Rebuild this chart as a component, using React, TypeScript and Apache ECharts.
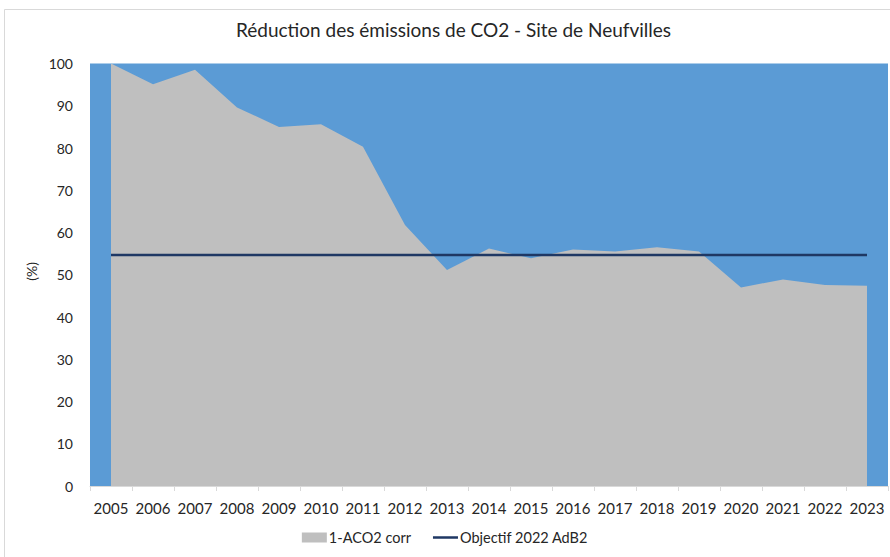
import React, { useEffect, useRef } from "react";
import * as echarts from "echarts";

const years = ["2005","2006","2007","2008","2009","2010","2011","2012","2013","2014","2015","2016","2017","2018","2019","2020","2021","2022","2023"];
const aco2Corr = [100, 95.1, 98.5, 89.6, 85.0, 85.6, 80.3, 61.8, 51.1, 56.2, 53.9, 56.0, 55.5, 56.5, 55.5, 47.0, 48.9, 47.6, 47.4];
const objectif = [54.7, 54.7, 54.7, 54.7, 54.7, 54.7, 54.7, 54.7, 54.7, 54.7, 54.7, 54.7, 54.7, 54.7, 54.7, 54.7, 54.7, 54.7, 54.7];
const yTicks = { min: 0, max: 100, interval: 10 };

const FONT = "Lato";
const TXT = "#262626";
const LINE_ICON = "path://M0,0L25,0L25,0.01L0,0.01Z M0,3.7L25,3.7L25,6.3L0,6.3Z M0,9.99L25,9.99L25,10L0,10Z";

export default function App() {
  const ref = useRef<HTMLDivElement>(null);
  useEffect(() => {
    if (!ref.current) return;
    const chart = echarts.init(ref.current, null, { renderer: "svg" });
    chart.setOption({
      animation: false,
      backgroundColor: "#ffffff",
      textStyle: { fontFamily: FONT },
      graphic: [
        {
          type: "rect",
          shape: { x: 4.5, y: 9.5, width: 900, height: 560 },
          style: { fill: "none", stroke: "#d9d9d9", lineWidth: 1 },
          silent: true,
        },
        {
          type: "text",
          left: 24,
          top: 262,
          rotation: Math.PI / 2,
          style: { text: "(%)", font: `14px ${FONT}`, fill: TXT, textAlign: "center", textVerticalAlign: "middle" },
        },
      ],
      title: {
        text: "Réduction des émissions de CO2 - Site de Neufvilles",
        left: 236,
        top: 20,
        padding: 0,
        textStyle: { fontFamily: FONT, fontSize: 19, fontWeight: "normal", color: TXT },
      },
      legend: {
        bottom: 7,
        left: "center",
        itemWidth: 25,
        itemHeight: 10,
        itemGap: 22,
        textStyle: { fontFamily: FONT, fontSize: 14.5, color: TXT, padding: [0, 0, 0, -3] },
        data: [
          { name: "1-ACO2 corr", icon: "rect" },
          { name: "Objectif 2022 AdB2", icon: LINE_ICON },
        ],
      },
      grid: {
        left: 90,
        right: 2,
        top: 63.5,
        bottom: 71,
        show: true,
        backgroundColor: "#5b9bd5",
        borderWidth: 0,
      },
      xAxis: {
        type: "category",
        data: years,
        boundaryGap: true,
        axisLine: { lineStyle: { color: "#d9d9d9" } },
        axisTick: { show: true, interval: 0, length: 5, lineStyle: { color: "#d9d9d9" } },
        axisLabel: { interval: 0, fontFamily: FONT, fontSize: 15, color: TXT, margin: 14 },
      },
      yAxis: {
        type: "value",
        min: yTicks.min,
        max: yTicks.max,
        interval: yTicks.interval,
        axisLine: { show: false },
        axisTick: { show: false },
        splitLine: { show: false },
        axisLabel: { fontFamily: FONT, fontSize: 14, color: TXT, margin: 17 },
      },
      series: [
        {
          name: "1-ACO2 corr",
          type: "line",
          data: aco2Corr,
          symbol: "none",
          color: "#bfbfbf",
          lineStyle: { width: 0 },
          areaStyle: { color: "#bfbfbf", opacity: 1 },
          z: 2,
        },
        {
          name: "Objectif 2022 AdB2",
          type: "line",
          data: objectif,
          symbol: "none",
          color: "#1f3864",
          lineStyle: { width: 2.5, color: "#1f3864" },
          z: 3,
        },
      ],
    });
    return () => chart.dispose();
  }, []);
  return <div ref={ref} style={{ position: "fixed", left: 0, top: 0, width: 890, height: 557 }} />;
}
